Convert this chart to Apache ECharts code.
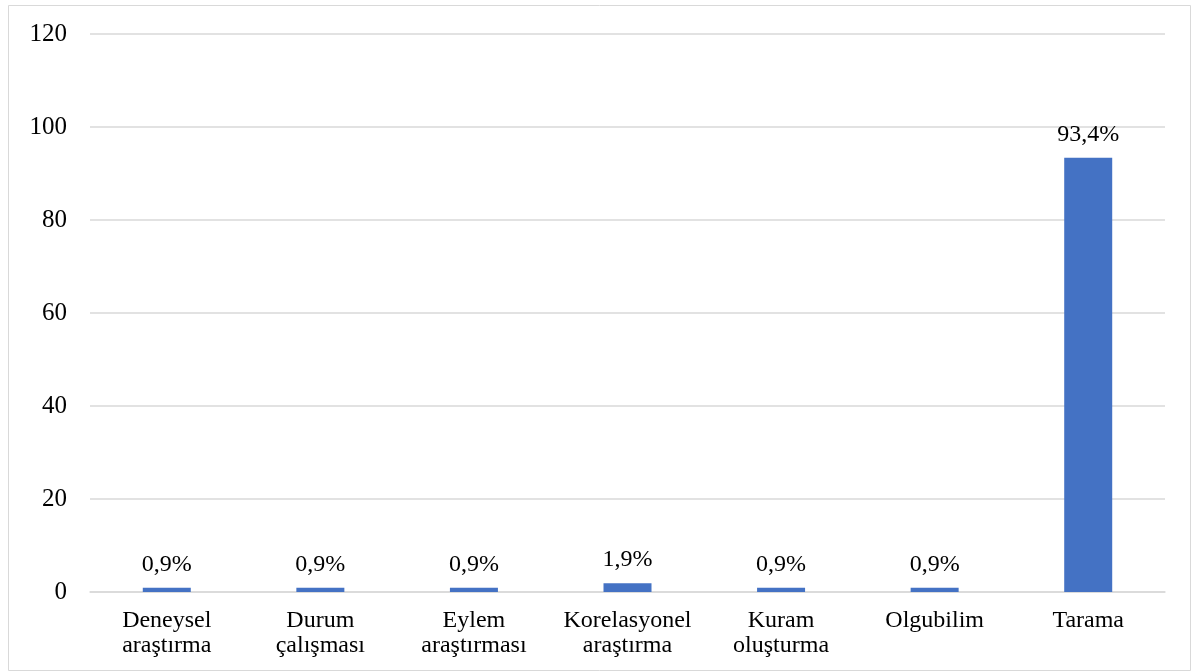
<!DOCTYPE html>
<html>
<head>
<meta charset="utf-8">
<script src="https://cdn.jsdelivr.net/npm/echarts@6/dist/echarts.min.js"></script>
<style>
  html, body { margin: 0; padding: 0; background: #fff; }
  #chart { width: 1192px; height: 672px; }
</style>
</head>
<body>
<div id="chart"></div>
<script>
// Araştırma yöntemleri ve yüzdeleri
const categories = [
  'Deneysel\naraştırma',
  'Durum\nçalışması',
  'Eylem\naraştırması',
  'Korelasyonel\naraştırma',
  'Kuram\noluşturma',
  'Olgubilim',
  'Tarama'
];
const percentages = [0.9, 0.9, 0.9, 1.9, 0.9, 0.9, 93.4];
const yTicks = [0, 20, 40, 60, 80, 100, 120];

const serif = '"Liberation Serif", "Times New Roman", serif';
const chart = echarts.init(document.getElementById('chart'), null, { renderer: 'canvas' });

chart.setOption({
  animation: false,
  backgroundColor: '#fff',
  graphic: [{
    type: 'rect',
    shape: { x: 8.5, y: 5.5, width: 1182, height: 665 },
    style: { fill: 'none', stroke: '#d9d9d9', lineWidth: 1 },
    silent: true
  }],
  grid: { left: 90, right: 27, top: 34, bottom: 80 },
  xAxis: {
    type: 'category',
    data: categories,
    axisLine: { show: true, lineStyle: { color: '#d9d9d9', width: 1.5 } },
    axisTick: { show: false },
    axisLabel: {
      interval: 0,
      margin: 16,
      color: '#000',
      fontFamily: serif,
      fontSize: 24,
      lineHeight: 25
    }
  },
  yAxis: {
    type: 'value',
    min: yTicks[0],
    max: yTicks[yTicks.length - 1],
    interval: yTicks[1] - yTicks[0],
    axisLine: { show: false },
    axisTick: { show: false },
    splitLine: { lineStyle: { color: '#d9d9d9', width: 1.5 } },
    axisLabel: {
      margin: 23,
      color: '#000',
      fontFamily: serif,
      fontSize: 25
    }
  },
  series: [{
    type: 'bar',
    data: percentages,
    barWidth: 48,
    itemStyle: { color: '#4472C4' },
    label: {
      show: true,
      position: 'top',
      distance: 11,
      color: '#000',
      fontFamily: serif,
      fontSize: 24,
      formatter: p => p.value.toFixed(1).replace('.', ',') + '%'
    }
  }]
});
</script>
</body>
</html>
